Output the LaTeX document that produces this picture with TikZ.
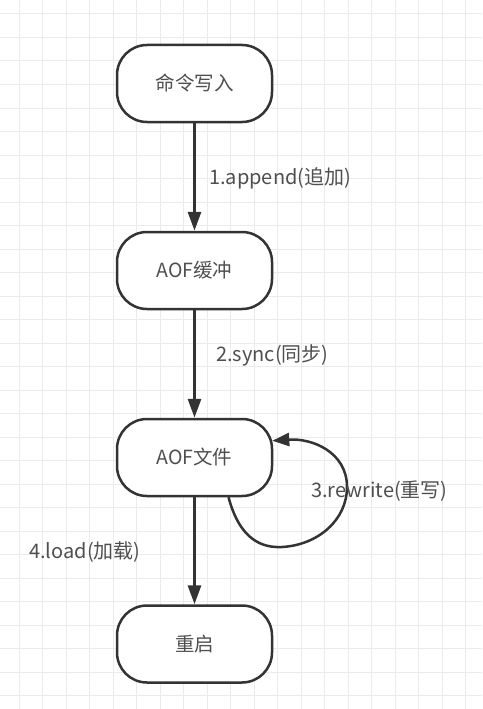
\documentclass[tikz,border=0pt]{standalone}
\usepackage{fontspec}
\setmainfont{Noto Sans CJK SC}
\usetikzlibrary{arrows.meta}
\definecolor{gridc}{HTML}{EBEBEB}
\definecolor{strokec}{HTML}{333333}
\definecolor{textc}{HTML}{4F4F4F}
\tikzset{
  stepbox/.style={draw=strokec, line width=2.5pt, rounded corners=30pt, fill=white,
    minimum width=155pt, minimum height=77pt, text=textc, font=\fontsize{19.5pt}{22pt}\selectfont, inner sep=0pt},
  flow/.style={draw=strokec, line width=3pt, -{Triangle[length=19pt,width=13pt]}},
  lbl/.style={text=textc, font=\fontsize{20pt}{22pt}\selectfont, inner sep=0pt, anchor=west}
}
\begin{document}
\begin{tikzpicture}[x=1pt,y=-1pt]
\useasboundingbox (0,0) rectangle (482,709);
\fill[white] (0,0) rectangle (482,709);
\foreach \i in {0,...,20} {\draw[gridc, line width=1pt] ({19+23.5*\i},0) -- ({19+23.5*\i},709);}
\foreach \i in {0,...,29} {\draw[gridc, line width=1pt] (0,{14+23.5*\i}) -- (482,{14+23.5*\i});}
\node[stepbox] (n1) at (194.5,83.5) {命令写入};
\node[stepbox] (n2) at (194.5,270.5) {AOF缓冲};
\node[stepbox] (n3) at (194.5,457.5) {AOF文件};
\node[stepbox] (n4) at (194.5,644) {重启};
\draw[flow] (n1) -- (n2);
\draw[flow] (n2) -- (n3);
\draw[flow] (n3) -- (n4);
\coordinate (loopA) at ([xshift=34pt]n3.south);
\coordinate (loopB) at ([xshift=-1pt,yshift=-23pt]n3.north east);
\draw[draw=strokec, line width=2.5pt, -{Triangle[length=17pt,width=13pt]}]
  (loopA) .. controls (240,540) and (262,548) .. (282,547)
  .. controls (318,545) and (347,520) .. (347,487)
  .. controls (347,452) and (312,438) .. (loopB);
\node[lbl] (l1) at (209,178) {1.append(追加)};
\node[lbl] (l2) at (216,355) {2.sync(同步)};
\node[lbl] (l3) at (311,491) {3.rewrite(重写)};
\node[lbl] (l4) at (29,552) {4.load(加载)};
\end{tikzpicture}
\end{document}
